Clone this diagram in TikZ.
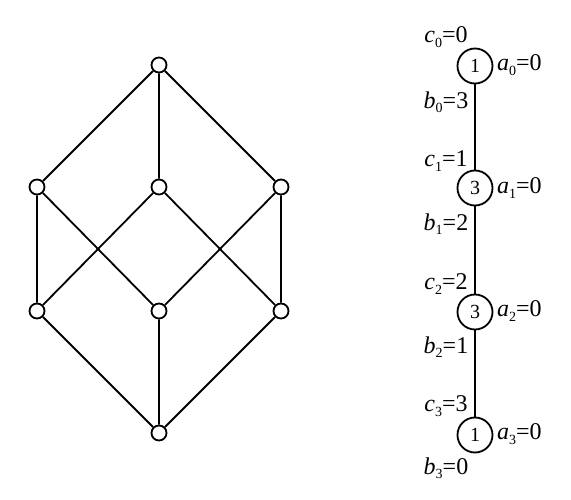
\documentclass[tikz,border=0pt]{standalone}
\usepackage{fontspec}
\setmainfont{Liberation Serif}
\newcommand{\lab}[3]{\textit{#1}\raisebox{-0.4ex}{\fontsize{14}{14}\selectfont #2}=#3}
\begin{document}
\begin{tikzpicture}[x=1pt,y=-1pt,
  vtx/.style={circle,draw,line width=1.8pt,minimum size=15pt,inner sep=0pt,fill=white},
  big/.style={circle,draw,line width=1.8pt,minimum size=35pt,inner sep=0pt,font=\fontsize{20}{20}\selectfont},
  edge/.style={line width=1.8pt},
  lbl/.style={inner sep=0pt,font=\fontsize{24}{24}\selectfont}]
\useasboundingbox (0,0) rectangle (571,500);
% lattice
\node[vtx] (t) at (159,65) {};
\node[vtx] (m1) at (37,187) {};
\node[vtx] (m2) at (159,187) {};
\node[vtx] (m3) at (281,187) {};
\node[vtx] (l1) at (37,311) {};
\node[vtx] (l2) at (159,311) {};
\node[vtx] (l3) at (281,311) {};
\node[vtx] (b) at (159,433) {};
\draw[edge] (t)--(m1) (t)--(m2) (t)--(m3)
  (m1)--(l1) (m1)--(l2) (m2)--(l1) (m2)--(l3) (m3)--(l2) (m3)--(l3)
  (l1)--(b) (l2)--(b) (l3)--(b);
% chain
\node[big] (n0) at (475,66) {1};
\node[big] (n1) at (475,188) {3};
\node[big] (n2) at (475,312) {3};
\node[big] (n3) at (475,435) {1};
\draw[edge] (n0)--(n1) (n1)--(n2) (n2)--(n3);
\node[lbl] (c0) at (446,37) {\lab{c}{0}{0}};
\node[lbl,anchor=west] (a0) at (497,65) {\lab{a}{0}{0}};
\node[lbl] (b0) at (446,102) {\lab{b}{0}{3}};
\node[lbl] (c1) at (446,161) {\lab{c}{1}{1}};
\node[lbl,anchor=west] (a1) at (497,188) {\lab{a}{1}{0}};
\node[lbl] (b1) at (446,224) {\lab{b}{1}{2}};
\node[lbl] (c2) at (446,284) {\lab{c}{2}{2}};
\node[lbl,anchor=west] (a2) at (497,311) {\lab{a}{2}{0}};
\node[lbl] (b2) at (446,347) {\lab{b}{2}{1}};
\node[lbl] (c3) at (446,406) {\lab{c}{3}{3}};
\node[lbl,anchor=west] (a3) at (497,434) {\lab{a}{3}{0}};
\node[lbl] (b3) at (446,468) {\lab{b}{3}{0}};
\end{tikzpicture}
\end{document}
